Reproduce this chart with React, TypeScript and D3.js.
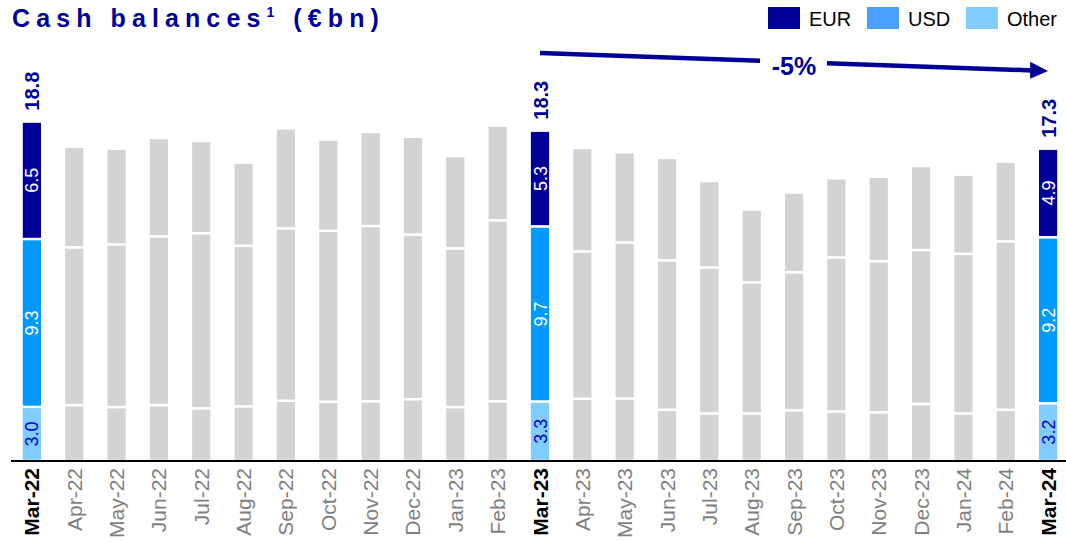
import React, { useRef, useEffect } from "react";
import * as d3 from "d3";

const months = [
  "Mar-22", "Apr-22", "May-22", "Jun-22", "Jul-22", "Aug-22", "Sep-22", "Oct-22", "Nov-22",
  "Dec-22", "Jan-23", "Feb-23", "Mar-23", "Apr-23", "May-23", "Jun-23", "Jul-23", "Aug-23",
  "Sep-23", "Oct-23", "Nov-23", "Dec-23", "Jan-24", "Feb-24", "Mar-24",
];
const eur = [6.5, 5.57, 5.3, 5.45, 5.11, 4.6, 5.54, 5.06, 5.21, 5.41, 5.11, 5.24, 5.3, 5.72, 5.0, 5.67, 4.78, 4.02, 4.41, 4.38, 4.67, 4.65, 4.38, 4.41, 4.9];
const usd = [9.3, 8.74, 9.01, 9.35, 9.7, 8.9, 9.55, 9.46, 9.71, 9.12, 8.79, 10.03, 9.7, 8.17, 8.64, 8.28, 8.09, 7.26, 7.65, 8.53, 8.37, 8.53, 8.84, 9.33, 9.2];
const other = [3.0, 3.1, 2.99, 3.1, 2.92, 3.03, 3.34, 3.29, 3.31, 3.43, 2.99, 3.31, 3.3, 3.45, 3.47, 2.84, 2.64, 2.64, 2.81, 2.75, 2.7, 3.16, 2.64, 2.84, 3.2];
const highlighted = ["Mar-22", "Mar-23", "Mar-24"];
const legendItems = ["EUR", "USD", "Other"];
const changeLabel = "-5%";

const NAVY = "#000099";
const colors = { eur: NAVY, usd: "#0099ff", other: "#80ccff" };
const legendColors = [NAVY, "#4d9fff", "#80ccff"];
const GREY = "#d3d3d3";

export default function App() {
  const svgRef = useRef<SVGSVGElement>(null);

  useEffect(() => {
    const svg = d3.select(svgRef.current);
    svg.selectAll("*").remove();
    const width = 1066;
    const height = 542;
    const font = "'Liberation Sans', Arial, sans-serif";
    svg.attr("width", width).attr("height", height).style("font-family", font);

    const x = d3.scaleBand().domain(months).range([11, 1069]).paddingInner(0.513).paddingOuter(0.25);
    const y = d3.scaleLinear().domain([0, 20]).range([461, 100]);

    const data = months.map((m, i) => ({
      month: m,
      hi: highlighted.includes(m),
      segs: [
        { key: "other", v0: 0, v1: other[i], v: other[i] },
        { key: "usd", v0: other[i], v1: other[i] + usd[i], v: usd[i] },
        { key: "eur", v0: other[i] + usd[i], v1: other[i] + usd[i] + eur[i], v: eur[i] },
      ],
    }));

    // title
    const title = svg
      .append("text")
      .attr("x", 12)
      .attr("y", 27)
      .attr("fill", NAVY)
      .attr("font-size", 25)
      .attr("font-weight", "bold")
      .attr("letter-spacing", 6.1);
    title.append("tspan").text("Cash balances");
    title.append("tspan").attr("font-size", 14).attr("dy", -10).text("1");
    title.append("tspan").attr("dy", 10).text(" (€bn)");

    // legend
    const legendX = [768, 867, 966];
    legendItems.forEach((l, i) => {
      svg.append("rect").attr("x", legendX[i]).attr("y", 7).attr("width", 32).attr("height", 22).attr("fill", legendColors[i]);
      svg
        .append("text")
        .attr("x", legendX[i] + 41)
        .attr("y", 26)
        .attr("font-size", 20)
        .attr("fill", "#000")
        .text(l);
    });

    // bars
    const groups = svg
      .append("g")
      .selectAll("g")
      .data(data)
      .join("g")
      .attr("transform", (d) => `translate(${x(d.month)},0)`);

    groups
      .selectAll("rect")
      .data((d) => d.segs.map((s) => ({ ...s, hi: d.hi })))
      .join("rect")
      .attr("x", 0)
      .attr("width", x.bandwidth())
      .attr("y", (s) => y(s.v1))
      .attr("height", (s) => y(s.v0) - y(s.v1))
      .attr("fill", (s) => (s.hi ? colors[s.key] : GREY))
      .attr("stroke", "#fff")
      .attr("stroke-width", 2.4);

    const hiGroups = groups.filter((d) => d.hi);
    const bw = x.bandwidth();

    hiGroups
      .selectAll("text.seg")
      .data((d) => d.segs)
      .join("text")
      .attr("class", "seg")
      .attr("transform", (s) => `translate(${bw / 2 + 6.5},${(y(s.v0) + y(s.v1)) / 2}) rotate(-90)`)
      .attr("text-anchor", "middle")
      .attr("font-size", 18)
      .attr("fill", (s) => (s.key === "other" ? "#0000cc" : "#fff"))
      .text((s) => d3.format(".1f")(s.v));

    hiGroups
      .append("text")
      .attr("transform", (d) => `translate(${bw / 2 + 7.5},${y(d.segs[2].v1) - 11}) rotate(-90)`)
      .attr("text-anchor", "start")
      .attr("font-size", 20)
      .attr("font-weight", "bold")
      .attr("fill", NAVY)
      .text((d) => d3.format(".1f")(d.segs[2].v1));

    // x axis
    svg.append("line").attr("x1", 11).attr("x2", 1066).attr("y1", 461).attr("y2", 461).attr("stroke", "#000").attr("stroke-width", 2);
    svg
      .append("g")
      .selectAll("text")
      .data(data)
      .join("text")
      .attr("transform", (d) => `translate(${x(d.month)! + bw / 2 + 7.5},468) rotate(-90)`)
      .attr("text-anchor", "end")
      .attr("font-size", 21)
      .attr("font-weight", (d) => (d.hi ? "bold" : "normal"))
      .attr("fill", (d) => (d.hi ? "#000" : "#7f7f7f"))
      .text((d) => d.month);

    // change arrow
    const ax0 = x("Mar-23")! + bw / 2;
    const ax1 = x("Mar-24")! + bw / 2;
    const ay0 = 53;
    const ay1 = 71;
    const ly = (px: number) => ay0 + ((px - ax0) * (ay1 - ay0)) / (ax1 - ax0);
    const headBack = ax1 - 18;
    svg.append("line").attr("x1", ax0).attr("y1", ay0).attr("x2", 760).attr("y2", ly(760)).attr("stroke", NAVY).attr("stroke-width", 4.5);
    svg.append("line").attr("x1", 827).attr("y1", ly(827)).attr("x2", headBack + 2).attr("y2", ly(headBack + 2)).attr("stroke", NAVY).attr("stroke-width", 4.5);
    svg
      .append("polygon")
      .attr("points", `${ax1},${ay1} ${headBack},${ly(headBack) - 8.5} ${headBack},${ly(headBack) + 8.5}`)
      .attr("fill", NAVY);
    svg
      .append("text")
      .attr("x", 794)
      .attr("y", 75)
      .attr("text-anchor", "middle")
      .attr("font-size", 25)
      .attr("font-weight", "bold")
      .attr("fill", NAVY)
      .text(changeLabel);
  }, []);

  return (
    <div style={{ position: "absolute", left: 0, top: 0 }}>
      <svg ref={svgRef}></svg>
    </div>
  );
}
